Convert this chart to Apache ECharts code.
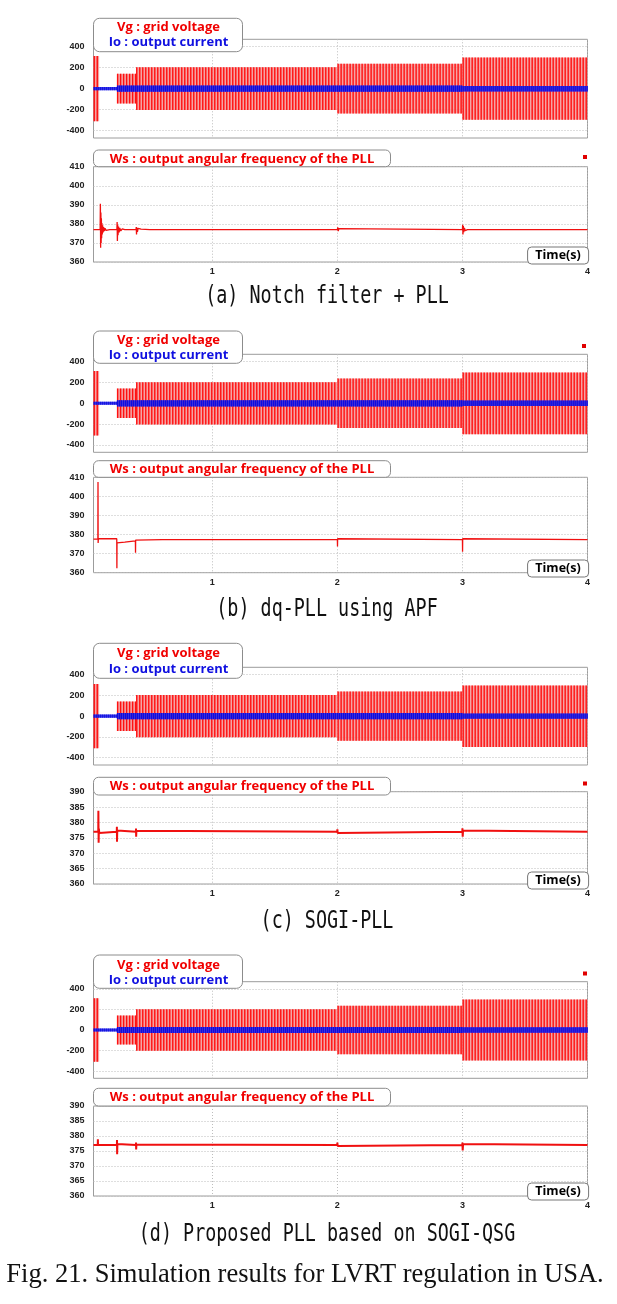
<!DOCTYPE html>
<html><head><meta charset="utf-8">
<script src="https://cdn.jsdelivr.net/npm/echarts@6/dist/echarts.min.js"></script>
<style>html,body{margin:0;padding:0;background:#fff}#c{width:617px;height:1304px}</style>
</head><body><div id="c"></div>
<script>
// ---------------- data ----------------
const timeTicks = [1, 2, 3, 4];
const voltTicks = [-400, -200, 0, 200, 400];
// grid voltage Vg envelope: [start (s), end (s), peak]
const vgSegments = [[0.05,0.095,310],[0.095,0.237,0],[0.237,0.39,142],[0.39,2.0,203],[2.0,3.0,237],[3.0,4.0,296]];
// output current Io envelope: [start (s), end (s), peak]
const ioSegments = [[0.05,0.237,15],[0.237,3.0,30],[3.0,4.0,26]];
// Ws : output angular frequency of the PLL  [time (s), rad/s]
const wsNotch = [[0.05,377],[0.103,377],[0.105,390.5],[0.107,367.5],[0.109,386],[0.111,370],[0.113,383],[0.115,372.5],[0.117,380.5],[0.12,374.5],[0.123,379.2],[0.127,375.5],[0.131,378.3],[0.136,376.2],[0.142,377.7],[0.15,376.6],[0.16,377.3],[0.18,377],[0.237,377],[0.239,381],[0.241,371],[0.243,379.5],[0.246,374],[0.25,378.6],[0.255,375.5],[0.26,377.9],[0.268,376.3],[0.28,377.4],[0.3,377],[0.39,377],[0.392,378.3],[0.394,374.4],[0.397,378],[0.401,375.8],[0.407,377.6],[0.415,376.6],[0.43,377.2],[0.5,377],[2.0,377],[2.003,378.2],[2.007,376.2],[2.012,377.5],[2.02,377],[3.0,377],[3.002,379.5],[3.004,374.5],[3.007,378.8],[3.011,375.6],[3.016,377.9],[3.022,376.5],[3.03,377.3],[3.04,377],[4.0,377]];
const wsApf = [[0.05,377.6],[0.085,377.6],[0.086,407.5],[0.087,375.6],[0.089,377.8],[0.236,377.8],[0.237,362.3],[0.238,375.6],[0.3,376.0],[0.385,376.7],[0.386,370.5],[0.387,377.1],[0.6,377.3],[2.0,377.3],[2.001,373.7],[2.002,377.8],[2.003,377.3],[3.0,377.3],[3.001,371],[3.002,377.8],[3.003,377.3],[4.0,377.3]];
const wsSogi = [[0.05,377],[0.088,377],[0.089,383.8],[0.091,373.4],[0.093,378],[0.096,376.6],[0.1,377],[0.236,377],[0.237,378.6],[0.238,373.7],[0.24,377.4],[0.243,377],[0.389,377],[0.39,378],[0.391,375.4],[0.393,377.3],[0.396,377],[1.999,377],[2.0,377.8],[2.002,376.6],[2.005,377],[2.999,377],[3.0,378.1],[3.002,375.4],[3.005,377.4],[3.009,377],[4.0,377]];
const wsProposed = [[0.05,377],[0.084,377],[0.085,378.9],[0.086,377],[0.237,377],[0.238,378.7],[0.239,373.9],[0.241,377.3],[0.244,377],[0.389,377],[0.39,377.8],[0.391,375.5],[0.393,377.2],[0.396,377],[1.999,377],[2.0,377.8],[2.002,376.7],[2.005,377],[2.999,377],[3.0,377.8],[3.002,375.2],[3.005,377.3],[3.009,377],[4.0,377]];
const wsSeries = [wsNotch, wsApf, wsSogi, wsProposed];
const wsRanges = [[360,410,10],[360,410,10],[360,390,5],[360,390,5]];
const captions = ['(a) Notch filter + PLL','(b) dq-PLL using APF','(c) SOGI-PLL','(d) Proposed PLL based on SOGI-QSG'];
const figCaption = 'Fig. 21. Simulation results for LVRT regulation in USA.';
const vgName = 'Vg : grid voltage', ioName = 'Io : output current', wsName = 'Ws : output angular frequency of the PLL';

// ---------------- layout ----------------
const L = 93.5, R = 29.5;
const vGrid = [[39.3,138],[354.3,452.3],[667.3,765],[981.7,1078.3]];
const wGrid = [[166.7,262],[477.3,572.7],[791.7,884],[1106,1196]];
const vLeg = [[18.3,33.4,27.3,42.7],[331,32.3,340,355],[643.3,35,653.3,669.3],[955,33.3,965,980]];
const wLeg = [[150,16.7,159.3],[460.7,16.6,469.3],[777.3,17.7,786],[1088.3,17.7,1097.3]];
const timeBox = [247,560,872,1183];
const redSq = [[583,155],[582,344],[583,781.5],[583,971.5]];
const capY = [296.7,609.5,921.5,1235];

const grid=[], xAxis=[], yAxis=[], series=[], graphic=[];
const labelFont = {fontFamily:'Liberation Sans', fontWeight:'bold', fontSize:9, color:'#222'};
const dotted = {show:true, lineStyle:{color:'#bdbdbd', type:[1,2], width:1}};

function bandItem(fill, stripe, spacing, sw){
  return function(params, api){
    const t0=api.value(0), t1=api.value(1), a=api.value(2);
    if(!a) return null;
    const p0=api.coord([t0,a]), p1=api.coord([t1,-a]);
    const ch=[{type:'rect', shape:{x:p0[0], y:p0[1], width:p1[0]-p0[0], height:p1[1]-p0[1]}, style:{fill:fill}}];
    if(stripe){
      for(let x=p0[0]+0.75; x<p1[0]; x+=spacing){
        ch.push({type:'line', shape:{x1:x,y1:p0[1],x2:x,y2:p1[1]}, style:{stroke:stripe, lineWidth:sw}});
      }
    }
    return {type:'group', children:ch};
  };
}

for(let i=0;i<4;i++){
  const vi=2*i, wi=2*i+1;
  grid.push({left:L, right:R, top:vGrid[i][0], height:vGrid[i][1]-vGrid[i][0], show:true, borderColor:'#9c9c9c', borderWidth:1, backgroundColor:'#fff', outerBoundsMode:'none', containLabel:false});
  grid.push({left:L, right:R, top:wGrid[i][0], height:wGrid[i][1]-wGrid[i][0], show:true, borderColor:'#9c9c9c', borderWidth:1, backgroundColor:'#fff', outerBoundsMode:'none', containLabel:false});
  xAxis.push({type:'value', gridIndex:vi, min:0.05, max:4, axisLine:{show:false}, axisTick:{show:false, customValues:timeTicks}, axisLabel:{show:false, customValues:timeTicks}, splitLine:dotted});
  xAxis.push({type:'value', gridIndex:wi, min:0.05, max:4, axisLine:{show:false}, axisTick:{show:false, customValues:timeTicks}, axisLabel:Object.assign({show:true, margin:5, customValues:timeTicks}, labelFont), splitLine:dotted});
  yAxis.push({type:'value', gridIndex:vi, min:-470, max:470, axisLine:{show:false}, axisTick:{show:false, customValues:voltTicks}, axisLabel:Object.assign({margin:9, customValues:voltTicks}, labelFont), splitLine:dotted});
  const r=wsRanges[i];
  yAxis.push({type:'value', gridIndex:wi, min:r[0], max:r[1], interval:r[2], axisLine:{show:false}, axisTick:{show:false}, axisLabel:Object.assign({margin:9}, labelFont), splitLine:dotted});
  series.push({type:'custom', name:vgName, xAxisIndex:vi, yAxisIndex:vi, data:vgSegments, encode:{x:[0,1], y:2}, renderItem:bandItem('rgba(243,140,140,0.8)','#ff1010',3,1.4), clip:true, silent:true, animation:false, z:2});
  series.push({type:'custom', name:ioName, xAxisIndex:vi, yAxisIndex:vi, data:ioSegments, encode:{x:[0,1], y:2}, renderItem:bandItem('rgba(45,45,235,0.85)','#0c0ce0',2,1.2), clip:true, silent:true, animation:false, z:3});
  series.push({type:'line', name:wsName, xAxisIndex:wi, yAxisIndex:wi, data:wsSeries[i], showSymbol:false, symbol:'none', lineStyle:{color:'#f01010', width:i<2?1.3:2}, clip:true, silent:true, animation:false, z:3});

  // legend boxes
  const lg=vLeg[i];
  graphic.push({type:'rect', z:100, shape:{x:L, y:lg[0], width:149, height:lg[1], r:6}, style:{fill:'#fff', stroke:'#8c8c8c', lineWidth:1}});
  graphic.push({type:'text', z:101, x:168.5, y:lg[2], style:{text:vgName, fill:'#f00000', fontFamily:'Open Sans', fontWeight:'bold', fontSize:13, align:'center', verticalAlign:'middle', textAlign:'center', textVerticalAlign:'middle'}});
  graphic.push({type:'text', z:101, x:168.5, y:lg[3], style:{text:ioName, fill:'#1010e0', fontFamily:'Open Sans', fontWeight:'bold', fontSize:13, align:'center', verticalAlign:'middle', textAlign:'center', textVerticalAlign:'middle'}});
  const wl=wLeg[i];
  graphic.push({type:'rect', z:100, shape:{x:L, y:wl[0], width:297, height:wl[1], r:5}, style:{fill:'#fff', stroke:'#8c8c8c', lineWidth:1}});
  graphic.push({type:'text', z:101, x:242, y:wl[2], style:{text:wsName, fill:'#f00000', fontFamily:'Open Sans', fontWeight:'bold', fontSize:13, align:'center', verticalAlign:'middle', textAlign:'center', textVerticalAlign:'middle'}});
  // Time(s) box
  graphic.push({type:'rect', z:100, shape:{x:527.6, y:timeBox[i], width:61, height:17, r:4}, style:{fill:'#fff', stroke:'#777', lineWidth:1}});
  graphic.push({type:'text', z:101, x:558, y:timeBox[i]+8.8, style:{text:'Time(s)', fill:'#000', fontFamily:'Open Sans', fontWeight:'bold', fontSize:12.5, align:'center', verticalAlign:'middle', textAlign:'center', textVerticalAlign:'middle'}});
  // red marker
  graphic.push({type:'rect', z:100, shape:{x:redSq[i][0], y:redSq[i][1], width:4, height:4}, style:{fill:'#e00000'}});
  // caption
  graphic.push({type:'text', z:101, x:327, y:capY[i], scaleY:1.35, style:{text:captions[i], fill:'#111', fontFamily:'DejaVu Sans Mono', fontSize:18.4, align:'center', verticalAlign:'middle', textAlign:'center', textVerticalAlign:'middle'}});
}
graphic.push({type:'text', z:101, x:305, y:1275, style:{text:figCaption, fill:'#111', fontFamily:'Liberation Serif', fontSize:26.5, align:'center', verticalAlign:'middle', textAlign:'center', textVerticalAlign:'middle'}});

const chart = echarts.init(document.getElementById('c'), null, {renderer:'canvas'});
chart.setOption({backgroundColor:'#fff', animation:false, grid, xAxis, yAxis, series, graphic});
</script></body></html>
